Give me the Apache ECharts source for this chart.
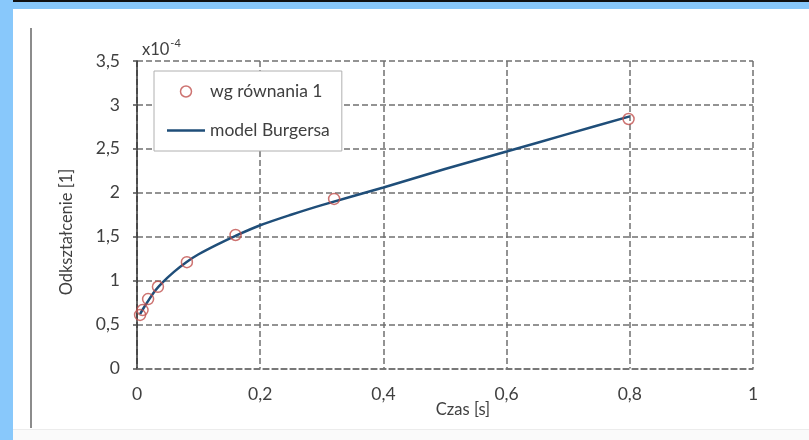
<!DOCTYPE html>
<html>
<head>
<meta charset="utf-8">
<script src="https://cdn.jsdelivr.net/npm/echarts@6/dist/echarts.min.js"></script>
<style>
html,body{margin:0;padding:0;background:#ffffff;}
#c{width:809px;height:440px;}
</style>
</head>
<body>
<div id="c"></div>
<script>
// Data (strain in units of 1e-4)
const pointTimes  = [0.005, 0.009, 0.018, 0.034, 0.081, 0.16, 0.32, 0.798];
const pointStrain = [0.61, 0.665, 0.79, 0.93, 1.21, 1.52, 1.93, 2.84];
const modelTimes  = [0.005, 0.01, 0.02, 0.03, 0.04, 0.06, 0.08, 0.10, 0.13, 0.16, 0.20, 0.25, 0.30, 0.40, 0.50, 0.60, 0.70, 0.80];
const modelStrain = [0.62, 0.68, 0.79, 0.89, 0.97, 1.10, 1.21, 1.30, 1.41, 1.51, 1.63, 1.75, 1.86, 2.06, 2.27, 2.47, 2.67, 2.87];
const seriesNames = ['wg równania 1', 'model Burgersa'];
const xTitle = 'Czas [s]';
const yTitle = 'Odkształcenie [1]';

const FONT = 'Lato, "Open Sans", sans-serif';
const fmt = v => String(v).replace('.', ',');
const gridDash = { color: '#707070', width: 1.5, type: [6, 3] };
const RED = '#c0504d';
const BLUE = '#1f4e79';

const chart = echarts.init(document.getElementById('c'), null, { renderer: 'canvas' });
chart.setOption({
  backgroundColor: '#ffffff',
  animation: false,
  textStyle: { fontFamily: FONT },
  grid: { left: 137, right: 56, top: 61, bottom: 71.5, containLabel: false },
  graphic: [
    { type: 'rect', left: 0, top: 0, shape: { width: 809, height: 9 }, style: { fill: '#88c8fb' }, z: -1 },
    { type: 'rect', left: 0, top: 0, shape: { width: 809, height: 2 }, style: { fill: '#111111' }, z: -1 },
    { type: 'rect', left: 0, top: 0, shape: { width: 13, height: 440 }, style: { fill: '#88c8fb' }, z: -1 },
    { type: 'line', shape: { x1: 31, y1: 28, x2: 31, y2: 428 }, style: { stroke: '#666666', lineWidth: 1.5 }, z: -1 },
    { type: 'line', shape: { x1: 13, y1: 429.5, x2: 809, y2: 429.5 }, style: { stroke: '#ececec', lineWidth: 1 }, z: -1 },
    { type: 'rect', left: 13, top: 430, shape: { width: 796, height: 10 }, style: { fill: '#fafafa' }, z: -2 },
    {
      type: 'text', left: 142, top: 38,
      style: {
        text: '{b|x10}{s|-4}', fontFamily: FONT,
        rich: {
          b: { fontSize: 16.5, fill: '#404040', fontFamily: FONT, verticalAlign: 'bottom', lineHeight: 20 },
          s: { fontSize: 11, fill: '#404040', fontFamily: FONT, verticalAlign: 'top', lineHeight: 20, padding: [0, 0, 9, 1] }
        }
      }
    },
    {
      type: 'text', x: 463, y: 410,
      style: { text: xTitle, fontSize: 16.5, fill: '#404040', fontFamily: FONT, align: 'center', verticalAlign: 'middle' }
    },
    {
      type: 'text', x: 67, y: 232, rotation: Math.PI / 2,
      style: { text: yTitle, fontSize: 16.5, fill: '#404040', fontFamily: FONT, align: 'center', verticalAlign: 'middle' }
    }
  ],
  legend: {
    orient: 'vertical',
    left: 154, top: 71,
    padding: [11.5, 12, 11.5, 13],
    itemWidth: 38, itemHeight: 11, itemGap: 21,
    backgroundColor: '#ffffff',
    borderColor: '#b0b0b0', borderWidth: 1,
    textStyle: { fontSize: 17.5, color: '#404040', fontFamily: FONT },
    data: [
      { name: seriesNames[0], icon: 'circle', itemStyle: { color: 'rgba(0,0,0,0)', borderColor: RED, borderWidth: 1.5 } },
      { name: seriesNames[1], icon: 'path://M0,0 L38,0 L38,2.5 L0,2.5 Z', itemStyle: { color: BLUE, borderWidth: 0 } }
    ]
  },
  xAxis: {
    type: 'value', min: 0, max: 1, interval: 0.2,
    axisLine: { show: true, lineStyle: gridDash },
    axisTick: { show: false },
    axisLabel: { formatter: fmt, fontSize: 17.5, color: '#404040', margin: 17, fontFamily: FONT },
    splitLine: { show: true, lineStyle: gridDash }
  },
  yAxis: {
    type: 'value', min: 0, max: 3.5, interval: 0.5,
    axisLine: { show: true, lineStyle: { color: '#303030', width: 1.5 } },
    axisTick: { show: true, inside: false, length: 4, lineStyle: { color: '#505050', width: 1.5 } },
    axisLabel: { formatter: fmt, fontSize: 17.5, color: '#404040', margin: 17, fontFamily: FONT },
    splitLine: { show: true, lineStyle: gridDash }
  },
  series: [
    {
      name: seriesNames[0],
      type: 'scatter',
      symbol: 'circle',
      symbolSize: 11,
      itemStyle: { color: 'rgba(0,0,0,0)', borderColor: RED, borderWidth: 1.5 },
      z: 3,
      data: pointTimes.map((t, i) => [t, pointStrain[i]])
    },
    {
      name: seriesNames[1],
      type: 'line',
      smooth: 0.3,
      showSymbol: false,
      symbol: 'none',
      lineStyle: { color: BLUE, width: 2.5 },
      itemStyle: { color: BLUE },
      z: 2,
      data: modelTimes.map((t, i) => [t, modelStrain[i]])
    }
  ]
});
</script>
</body>
</html>
